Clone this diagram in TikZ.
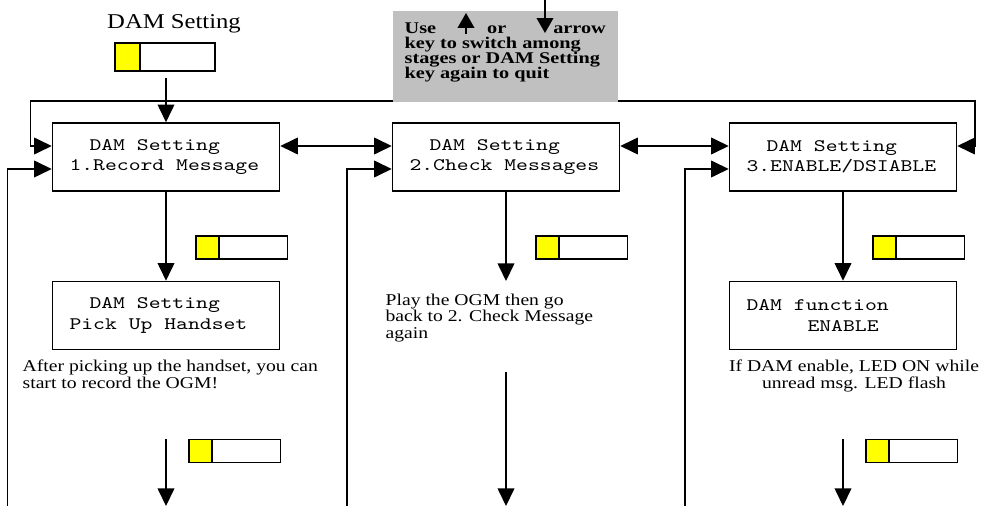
\documentclass[tikz,border=0pt]{standalone}
\usepackage{fontspec}
\setmainfont{Liberation Serif}
\newfontfamily\lcdfont[Extension=.otf,FakeStretch=1.285]{lmmono10-regular}
\newfontfamily\notefont[FakeStretch=1.19]{Liberation Serif}
\newfontfamily\hintfont[FakeStretch=1.24]{Liberation Serif Bold}
\newfontfamily\titlefont[FakeStretch=1.17]{Liberation Serif}
\usetikzlibrary{arrows.meta}
\usetikzlibrary{positioning}
\definecolor{keyyellow}{RGB}{255,255,0}
\definecolor{hintgray}{RGB}{192,192,192}

\begin{document}
\begin{tikzpicture}[x=0.02cm,y=-0.02cm,line width=0.75pt,>={Triangle[length=10pt,width=9.5pt]},
lcd/.style={draw,line width=0.9pt,minimum height=1.36cm,text width=3.86cm,inner xsep=0.34cm,inner ysep=0pt,align=flush left,font=\lcdfont\fontsize{10}{11.6}\selectfont,execute at begin node={\spaceskip=6.75pt\relax}},
ykey/.style={draw,fill=keyyellow,minimum width=0.46cm,minimum height=0.46cm,inner sep=0pt,outer sep=0pt},
wkey/.style={draw,fill=white,minimum width=1.37cm,minimum height=0.46cm,inner sep=0pt,outer sep=0pt},
note/.style={inner sep=0pt,align=left,font=\notefont\fontsize{9.4}{9.2}\selectfont},
hint/.style={inner sep=0pt,align=left,font=\hintfont\fontsize{9.3}{8.6}\selectfont},
updown/.style={-{Triangle[length=8.5pt,width=9.5pt]}}]
\useasboundingbox (0,0) rectangle (983,506);

\node[font=\titlefont\fontsize{12}{14}\selectfont,anchor=base] (title) at (174,29) {DAM Setting};
\node[ykey,minimum width=0.5cm,minimum height=0.56cm] (k0) at (127.5,57) {};
\node[wkey,minimum width=1.5cm,minimum height=0.56cm,right=0pt of k0] (k0w) {};

\node[lcd] (b1) at (166,157) {\hspace*{0.4cm}DAM Setting\\1.Record Message};
\node[lcd] (b2) at (506,157) {\hspace*{0.4cm}DAM Setting\\2.Check Messages};
\node[lcd] (b3) at (843,157) {\hspace*{0.4cm}DAM Setting\\3.ENABLE/DSIABLE};
\node[lcd] (p1) at (166,315.5) {\hspace*{0.4cm}DAM Setting\\Pick Up Handset};
\node[lcd] (p3) at (843,315.5) {DAM function\\\hspace*{1.22cm}ENABLE};

\node[ykey] (k1) at (207.5,247.5) {};
\node[wkey,right=0pt of k1] (k1w) {};
\node[ykey] (k2) at (547.5,247.5) {};
\node[wkey,right=0pt of k2] (k2w) {};
\node[ykey] (k3) at (884.5,247.5) {};
\node[wkey,right=0pt of k3] (k3w) {};
\node[ykey] (k4) at (200.5,451) {};
\node[wkey,right=0pt of k4] (k4w) {};
\node[ykey] (k5) at (877.5,451) {};
\node[wkey,right=0pt of k5] (k5w) {};

\node[note,anchor=base west] (t1) at (22,388) {After picking up the handset, you can\\start to record the OGM!};
\node[note,anchor=base west] (t2) at (385,338) {Play the OGM then go\\back to 2. Check Message\\again};
\node[note,align=center,anchor=base] (t3) at (854,388) {If DAM enable, LED ON while\\unread msg. LED flash};

\coordinate (s0) at (166,78);
\coordinate (tl) at (30.7,101);
\coordinate (tr) at (975,101);
\coordinate (l1) at (7.3,506);
\coordinate (l2) at (347,506);
\coordinate (l3) at (685,506);
\coordinate (e2) at (506,281);
\coordinate (s1) at (166,439);
\coordinate (e1) at (166,506);
\coordinate (s2) at (506,372);
\coordinate (e2b) at (506,506);
\coordinate (s3) at (843,439);
\coordinate (e3) at (843,506);

\draw[->] (s0) -- (b1);
\draw[<->] ([yshift=0.22cm]b1.west) -| (tl) -- (tr) |- ([yshift=0.22cm]b3.east);
\draw[<->] ([yshift=0.22cm]b1.east) -- ([yshift=0.22cm]b2.west);
\draw[<->] ([yshift=0.22cm]b2.east) -- ([yshift=0.22cm]b3.west);
\draw[->] (l1) |- ([yshift=-0.24cm]b1.west);
\draw[->] (l2) |- ([yshift=-0.24cm]b2.west);
\draw[->] (l3) |- ([yshift=-0.24cm]b3.west);
\draw[->] (b1) -- (p1);
\draw[->] (b2) -- (e2);
\draw[->] (b3) -- (p3);
\draw[->] (s1) -- (e1);
\draw[->] (s2) -- (e2b);
\draw[->] (s3) -- (e3);

\node[fill=hintgray,anchor=north west,minimum width=4.5cm,minimum height=1.82cm,inner sep=0pt] (hintbox) at (392,10) {};
\node[hint,anchor=base west] (hinttext) at (404,79) {Use\hspace{1.02cm}or\hspace{0.94cm}arrow\\key to switch among\\stages or DAM Setting\\key again to quit};
\draw[updown] (466,34) -- (466,13);
\draw[updown] (545,0) -- (545,33);
\end{tikzpicture}
\end{document}
